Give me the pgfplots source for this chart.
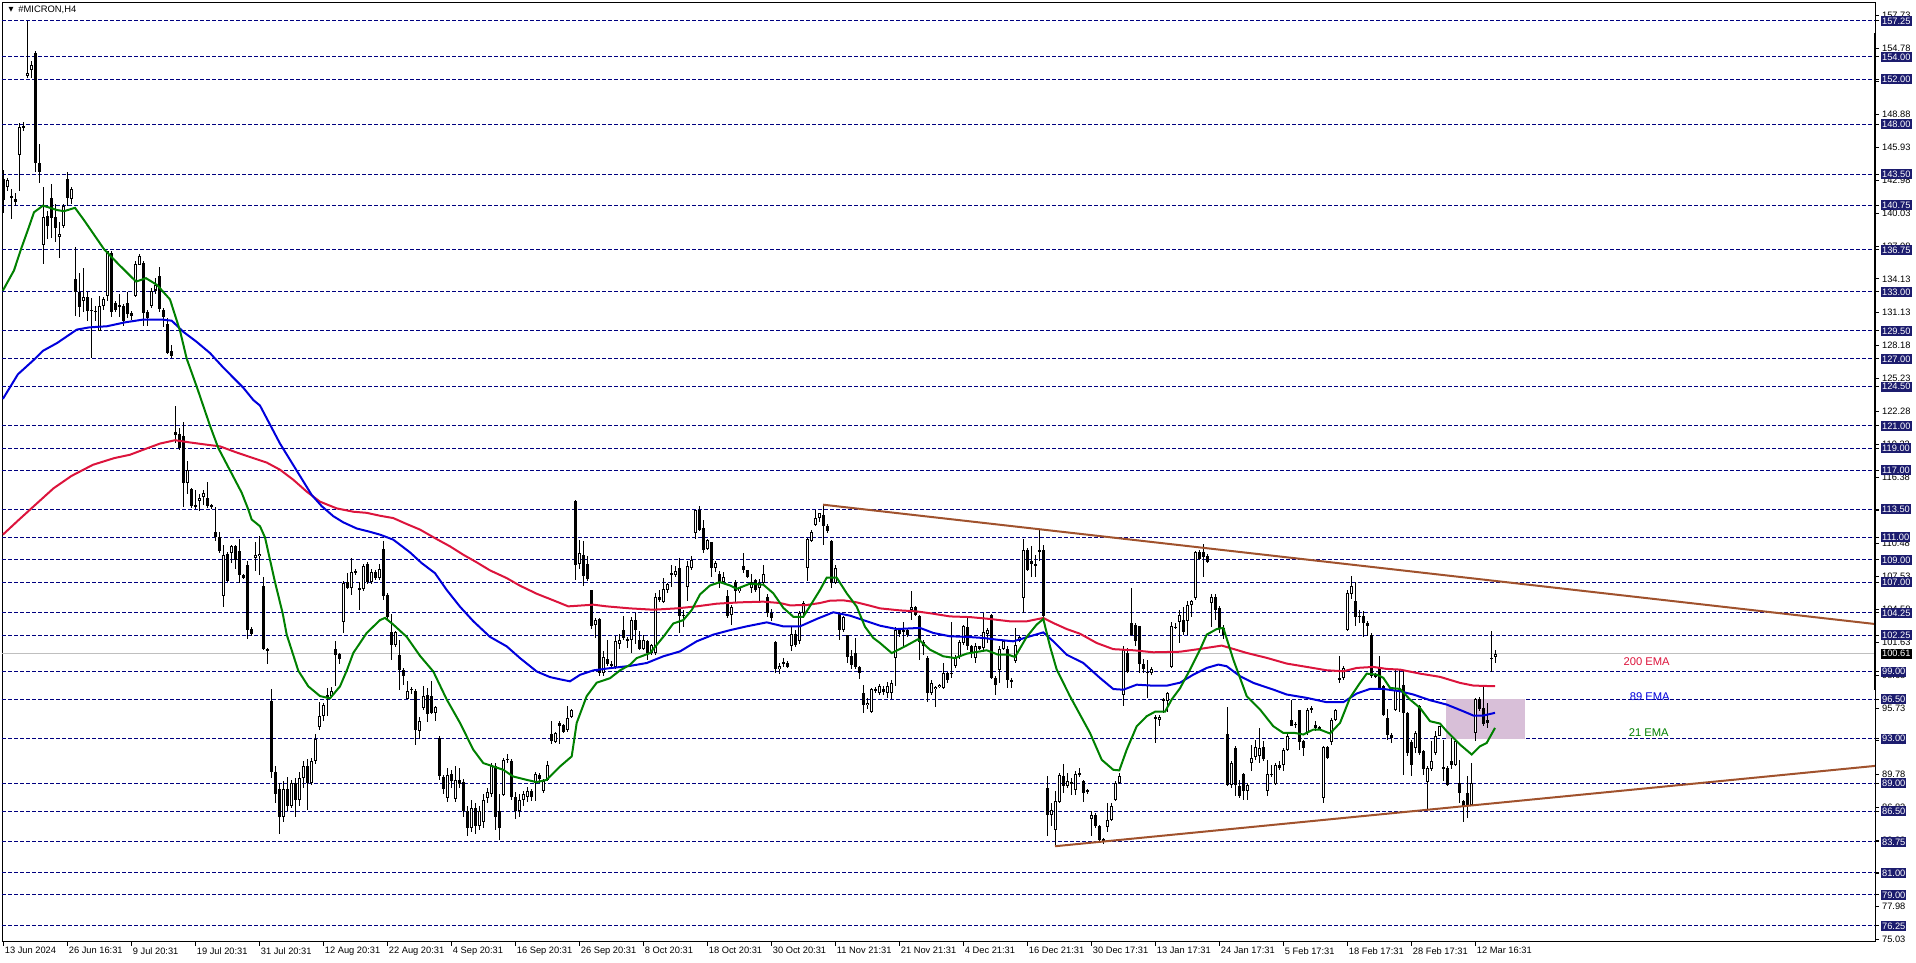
\documentclass[border=0pt]{standalone}
\usepackage{fontspec}
\setmainfont{Liberation Sans}
\newfontfamily\dejavu{DejaVu Sans}
\usepackage{pgfplots}
\usepackage{pgfplotstable}
\pgfplotsset{compat=1.18}
\definecolor{navyline}{RGB}{0,0,128}
\definecolor{navybox}{RGB}{28,28,110}
\definecolor{emared}{RGB}{220,20,60}
\definecolor{emablue}{RGB}{0,0,220}
\definecolor{emagreen}{RGB}{0,128,0}
\definecolor{trend}{RGB}{160,82,45}
\definecolor{boxpink}{RGB}{216,191,216}
\newcommand{\tf}{\fontsize{4.65pt}{5pt}\selectfont}

\pgfplotstableread{
k o h l c
0 143.1 143.9 140.05 141.2
1 142.4 143.2 142.0 143.0
2 141.6 142.2 139.5 141.4
3 141.3 141.8 140.7 141.0
4 145.2 148.1 142.0 147.7
5 147.7 148.2 147.4 147.8
6 152.3 157.25 152.1 152.6
7 152.8 153.6 152.1 153.3
8 154.4 154.5 143.7 144.5
9 144.5 146.2 142.7 143.7
10 137.2 142.4 135.5 139.7
11 139.8 140.2 137.7 138.9
12 141.4 142.6 137.8 139.6
13 139.7 140.8 137.4 138.7
14 137.9 139.2 136.0 138.2
15 138.9 140.8 138.7 140.7
16 143.1 143.7 140.7 141.4
17 141.3 142.4 140.8 142.2
18 134.1 137.0 130.8 133.0
19 133.0 134.7 130.7 131.6
20 132.2 135.1 131.2 132.5
21 132.5 133.0 130.4 131.3
22 131.4 132.4 127.1 131.3
23 131.2 131.7 130.4 131.3
24 129.5 132.6 129.5 131.7
25 131.7 132.5 131.4 132.3
26 132.6 136.6 132.2 136.6
27 136.5 136.6 130.7 131.2
28 132.0 132.2 131.2 131.4
29 131.7 132.8 130.7 131.75
30 131.7 131.9 129.9 130.4
31 132.0 133.0 130.6 131.0
32 131.1 131.3 130.5 130.8
33 132.6 135.7 132.5 135.5
34 135.4 136.4 135.4 136.2
35 135.6 135.7 129.9 131.1
36 131.2 131.4 129.9 130.6
37 131.7 133.3 131.5 133.1
38 133.1 134.2 132.8 133.6
39 134.4 135.2 131.2 131.4
40 131.4 131.5 129.8 130.7
41 130.1 130.6 127.4 127.5
42 127.7 128.2 127.1 127.2
43 120.4 122.8 119.45 120.2
44 120.25 120.8 118.85 119.0
45 120.1 121.3 113.7 115.9
46 115.9 117.8 114.9 117.0
47 115.3 115.4 113.6 113.8
48 113.9 115.2 113.5 113.7
49 114.3 114.9 113.4 114.5
50 114.6 115.2 113.9 115.0
51 114.5 116.0 113.6 113.8
52 113.9 114.0 113.5 113.7
53 111.5 113.75 110.65 111.05
54 111.0 111.5 109.6 109.75
55 105.73 110.35 104.78 109.46
56 109.55 109.7 107.0 107.07
57 109.61 110.3 108.72 110.2
58 110.2 110.3 108.18 109.0
59 109.75 110.86 106.93 107.67
60 107.6 107.7 107.3 107.4
61 108.57 108.87 101.92 102.76
62 102.8 103.0 102.2 102.4
63 109.2 110.56 107.97 109.4
64 109.3 111.1 107.67 109.5
65 106.62 107.5 100.96 100.98
66 101.0 101.1 99.7 100.8
67 96.4 97.45 89.5 90.0
68 90.0 90.5 87.2 88.0
69 88.5 89.0 84.5 86.0
70 86.0 89.2 85.5 88.5
71 88.5 89.6 86.5 87.0
72 87.0 89.3 86.8 89.0
73 89.0 89.5 86.0 87.5
74 87.5 90.0 87.0 89.5
75 89.5 91.0 88.6 90.5
76 90.5 91.2 86.6 89.0
77 89.0 91.3 88.8 91.0
78 91.0 93.4 90.7 93.0
79 94.0 96.3 93.8 95.0
80 95.0 96.2 94.6 96.0
81 96.9 97.56 95.0 96.6
82 96.8 97.6 96.6 97.3
83 101.0 101.7 97.67 100.5
84 100.6 100.7 99.7 100.1
85 103.41 107.1 102.45 106.93
86 107.0 107.8 106.4 106.5
87 106.5 109.16 105.88 107.9
88 108.0 108.2 107.6 107.8
89 106.5 107.0 104.53 106.3
90 106.4 108.6 106.2 108.42
91 108.6 108.8 106.8 107.0
92 107.0 108.2 106.8 107.9
93 107.9 108.1 107.2 107.4
94 107.4 108.6 107.2 108.2
95 109.97 110.65 105.43 105.79
96 105.88 106.0 103.64 103.89
97 102.54 104.18 100.07 101.41
98 101.4 102.6 101.2 102.5
99 100.51 101.85 97.38 99.11
100 99.1 99.3 97.83 98.6
101 96.55 98.12 96.5 97.23
102 97.4 97.6 97.0 97.45
103 97.23 97.4 92.38 93.8
104 93.7 94.94 92.97 94.55
105 95.74 97.74 95.6 96.85
106 96.9 97.5 94.5 95.2
107 96.8 98.12 95.2 95.3
108 95.3 95.9 94.6 95.8
109 93.06 93.27 89.33 89.63
110 89.6 89.7 88.0 88.44
111 87.7 90.38 87.3 89.78
112 89.8 90.2 88.6 89.2
113 87.6 90.5 87.3 89.3
114 89.3 90.4 88.6 88.9
115 89.1 89.4 86.0 86.5
116 86.5 87.0 84.3 85.0
117 85.0 87.5 84.6 86.8
118 86.8 87.2 84.5 85.2
119 85.2 87.0 84.8 86.5
120 85.5 88.0 85.0 87.5
121 87.7 88.6 87.2 88.2
122 88.0 90.8 87.8 90.5
123 90.5 90.8 84.8 86.0
124 86.5 88.0 83.9 85.0
125 87.98 91.3 87.9 91.11
126 91.2 91.6 90.8 91.1
127 91.0 91.2 87.5 87.8
128 87.8 88.2 85.8 86.5
129 86.5 88.0 86.0 87.5
130 87.5 88.3 87.0 88.0
131 87.8 88.7 87.3 88.3
132 88.3 88.5 87.4 87.8
133 89.0 90.0 87.4 89.8
134 89.7 89.9 89.0 89.4
135 88.3 89.4 88.1 89.2
136 89.33 91.0 89.2 90.67
137 93.45 94.55 92.55 92.76
138 92.7 93.6 92.6 93.5
139 94.4 94.55 92.5 94.1
140 94.2 94.3 93.5 93.6
141 93.8 95.89 93.6 94.85
142 94.9 95.6 94.8 95.53
143 114.23 114.32 107.22 108.57
144 108.6 110.8 108.2 109.61
145 109.4 110.7 106.69 107.52
146 108.6 109.3 107.1 107.3
147 106.33 106.33 102.81 103.11
148 103.2 103.8 102.0 103.6
149 103.71 103.8 98.6 98.88
150 98.9 100.81 98.6 100.31
151 100.1 101.85 99.5 99.7
152 99.5 99.9 99.2 99.65
153 99.4 102.2 99.2 101.7
154 101.5 102.4 101.0 101.8
155 102.75 104.0 101.8 102.0
156 101.85 102.1 101.1 101.8
157 101.85 103.9 100.65 103.58
158 103.6 104.2 101.5 102.7
159 101.85 102.6 100.9 101.0
160 101.0 102.3 100.95 101.8
161 101.7 101.8 100.0 100.7
162 100.7 101.5 100.5 101.4
163 100.7 106.0 100.5 105.7
164 105.7 106.3 105.2 105.4
165 105.2 107.4 105.1 106.4
166 106.3 106.9 106.0 106.8
167 107.8 108.5 106.6 107.6
168 107.6 108.4 107.5 108.0
169 108.26 109.15 102.45 103.94
170 104.0 104.5 103.0 104.1
171 106.56 108.86 105.28 108.47
172 108.26 109.36 108.1 108.95
173 111.39 113.48 110.85 113.42
174 113.42 113.84 111.54 111.69
175 111.8 112.6 109.6 109.9
176 110.0 110.9 109.9 110.8
177 110.6 110.6 107.5 108.3
178 108.3 108.9 107.9 108.7
179 107.75 107.96 106.47 106.98
180 107.0 107.87 106.9 107.45
181 105.78 106.32 103.79 103.99
182 104.1 104.95 103.2 104.8
183 106.98 107.2 105.19 106.17
184 106.17 106.6 106.0 106.47
185 108.4 109.6 107.8 108.05
186 108.05 108.1 107.4 107.5
187 106.5 107.7 106.0 107.05
188 107.2 107.3 106.1 106.3
189 106.47 107.3 105.3 106.9
190 106.9 108.5 106.8 107.7
191 105.7 105.9 103.9 104.2
192 104.2 104.6 103.5 103.8
193 101.6 101.7 98.9 99.2
194 99.2 99.8 98.8 99.5
195 99.75 100.2 99.4 99.8
196 99.8 99.9 99.3 99.4
197 101.3 103.0 100.8 102.4
198 102.4 102.7 101.2 101.4
199 101.7 104.4 101.5 104.2
200 104.2 105.3 104.1 105.1
201 108.26 110.94 107.07 110.85
202 110.7 111.7 110.6 111.5
203 112.1 113.5 112.0 112.7
204 112.7 113.2 112.4 113.2
205 113.0 113.93 110.35 112.0
206 112.0 112.2 111.4 111.6
207 110.7 110.8 106.5 106.9
208 106.9 108.5 106.8 108.3
209 104.2 104.3 101.8 102.7
210 102.7 104.0 102.5 103.9
211 102.3 102.3 99.8 100.3
212 100.4 100.9 99.2 99.6
213 100.7 102.0 99.2 99.4
214 99.4 99.5 98.3 98.9
215 97.1 97.8 95.3 96.0
216 96.0 96.6 95.6 96.2
217 95.4 97.5 95.3 97.4
218 97.35 97.6 97.1 97.4
219 97.1 97.9 96.9 97.7
220 97.4 97.7 96.9 97.2
221 97.1 98.1 96.6 97.7
222 97.1 98.27 96.54 97.97
223 100.2 103.0 97.7 102.7
224 102.7 102.9 102.1 102.4
225 102.6 103.4 101.2 102.7
226 102.7 102.8 102.1 102.3
227 104.5 106.17 103.6 104.8
228 104.8 104.9 104.0 104.1
229 104.0 104.1 100.06 101.6
230 101.6 101.8 100.5 101.3
231 100.2 100.4 96.3 97.1
232 97.1 98.2 96.9 98.0
233 97.4 97.7 95.8 97.6
234 97.6 97.9 97.5 97.8
235 97.5 99.76 97.4 98.9
236 98.9 99.0 98.0 98.2
237 98.8 103.4 98.4 98.9
238 99.5 100.5 99.3 100.3
239 100.3 101.8 100.1 101.6
240 101.55 103.19 101.4 103.04
241 103.0 103.9 100.95 101.25
242 101.25 101.4 100.2 100.7
243 100.2 101.55 99.76 101.25
244 101.25 101.3 100.9 101.0
245 101.1 104.2 100.95 102.5
246 102.4 102.9 101.55 102.75
247 104.08 104.17 98.33 98.42
248 98.42 98.57 96.93 97.82
249 99.17 101.25 97.97 101.0
250 101.0 101.85 100.9 101.7
251 101.0 101.25 97.5 98.27
252 98.2 98.4 97.5 98.1
253 99.9 102.9 99.76 101.4
254 101.7 102.2 101.6 102.1
255 105.6 110.85 104.2 109.9
256 109.9 110.05 107.96 108.1
257 108.9 110.2 107.5 108.6
258 108.6 109.45 107.5 108.4
259 109.8 111.7 108.9 109.85
260 109.84 110.35 103.8 103.93
261 88.57 89.62 84.25 86.19
262 86.2 87.2 85.15 86.6
263 84.85 88.28 83.36 87.38
264 87.3 89.9 87.2 89.77
265 89.62 90.75 88.13 88.79
266 88.79 89.92 88.6 89.17
267 89.0 89.47 87.98 89.05
268 88.43 90.07 87.98 89.86
269 89.9 90.37 89.6 89.7
270 89.17 89.32 87.3 88.13
271 88.4 88.5 88.0 88.2
272 85.8 86.5 84.25 86.2
273 86.2 86.34 85.0 85.15
274 85.15 85.3 83.8 83.95
275 84.0 84.1 83.6 83.8
276 85.1 87.24 84.6 85.7
277 85.7 87.24 85.6 87.0
278 87.53 89.17 87.38 89.0
279 89.0 89.92 88.97 89.68
280 96.93 101.25 95.88 100.95
281 100.7 101.1 98.9 99.0
282 103.3 106.47 102.15 102.3
283 103.2 103.3 101.25 101.7
284 103.04 103.1 98.9 99.7
285 99.7 100.1 98.9 99.2
286 98.9 100.06 96.63 98.95
287 98.9 99.4 98.7 99.2
288 94.9 95.1 92.6 94.75
289 94.7 95.1 94.1 94.9
290 96.35 96.6 95.3 96.5
291 96.4 97.2 95.4 97.07
292 99.4 103.4 99.3 103.04
293 103.0 103.3 102.8 102.9
294 103.4 104.5 101.55 104.08
295 103.6 104.8 102.3 102.5
296 103.5 105.3 102.3 104.99
297 104.99 105.4 103.9 105.3
298 105.6 109.76 105.37 109.67
299 109.67 109.9 109.0 109.07
300 109.67 110.45 107.47 109.25
301 109.3 109.5 108.7 108.8
302 105.14 105.9 103.0 105.7
303 105.7 105.9 103.65 104.48
304 104.7 104.9 102.45 102.9
305 102.9 103.2 101.9 102.3
306 93.45 95.83 88.73 88.88
307 88.88 90.97 88.59 90.82
308 92.16 92.31 87.84 88.88
309 88.73 89.33 87.69 87.84
310 89.8 89.9 87.5 88.3
311 88.3 89.0 87.5 88.8
312 90.82 92.46 90.08 91.27
313 91.36 92.91 91.12 92.25
314 91.42 93.95 90.82 92.16
315 92.25 92.76 90.97 91.18
316 88.28 91.12 87.84 89.87
317 89.87 90.67 89.6 89.7
318 88.97 90.82 88.8 90.67
319 90.67 90.97 90.22 90.37
320 90.6 92.16 90.08 91.96
321 92.01 93.5 91.87 93.27
322 94.7 96.49 94.1 94.16
323 94.25 94.5 93.95 94.3
324 95.53 95.59 92.01 92.67
325 92.76 92.91 91.42 92.16
326 93.5 95.74 93.36 95.59
327 95.6 95.9 95.3 95.74
328 94.25 94.55 93.65 93.95
329 94.0 94.1 93.8 93.9
330 87.7 92.31 87.24 92.25
331 92.25 92.31 91.18 91.27
332 92.67 94.85 92.46 94.7
333 94.7 95.65 94.55 95.53
334 98.43 100.4 97.98 98.28
335 98.43 99.47 98.28 99.32
336 102.69 106.33 102.6 106.03
337 105.97 107.58 105.5 106.69
338 105.29 106.99 103.05 103.88
339 103.95 104.5 103.35 103.97
340 103.95 104.39 102.09 103.35
341 103.35 103.5 102.15 103.05
342 102.3 102.45 98.43 98.58
343 98.6 98.9 98.4 98.62
344 99.32 100.36 97.38 97.53
345 97.68 97.83 95.0 95.15
346 94.85 95.65 92.91 93.36
347 93.36 93.5 92.6 93.06
348 95.59 99.17 95.44 97.38
349 97.3 99.1 95.4 97.35
350 97.83 99.17 89.78 95.29
351 95.29 95.35 91.42 91.72
352 92.67 92.91 89.69 90.67
353 92.16 93.65 91.72 93.5
354 95.89 96.04 91.57 91.72
355 91.87 92.01 89.78 90.23
356 89.09 90.52 86.65 90.37
357 90.23 92.76 90.08 90.97
358 91.72 93.65 91.57 93.27
359 93.27 94.16 93.2 94.1
360 90.46 92.91 89.2 90.23
361 90.37 90.52 88.73 88.88
362 90.97 93.06 90.23 90.67
363 90.67 92.97 90.52 92.76
364 89.03 91.12 87.24 88.14
365 87.39 87.54 85.5 86.94
366 88.14 89.69 85.9 87.0
367 87.09 90.82 86.94 89.03
368 93.5 96.64 92.76 96.55
369 96.55 96.73 95.44 95.65
370 95.74 97.83 94.16 94.34
371 94.7 96.19 93.95 94.4
372 100.2 102.6 99.0 100.15
373 100.3 100.96 99.77 100.61
}\candles

\pgfplotsset{
  candlepart/.style={draw=none, mark=none, forget plot, error bars/.cd, y dir=both, y explicit, error mark=none},
}

\begin{document}
\begin{tikzpicture}
\begin{axis}[
  at={(0,0)}, anchor=south west,
  scale only axis, width=936.5pt, height=469.65pt,
  xmin=2, xmax=1875, ymin=74.79, ymax=158.86,
  clip=false,
  axis line style={black, line width=0.5pt},
  tick style={black, line width=0.5pt},
  tick align=outside, major tick length=2pt,
  xtick pos=bottom, ytick pos=right,
  xtick={3.7,67.7,131.7,195.7,259.7,323.7,387.7,451.7,515.7,579.7,643.7,707.7,771.7,835.7,899.7,963.7,1027.7,1091.7,1155.7,1219.7,1283.7,1347.7,1411.7,1475.7},
  xticklabels={13 Jun 2024,26 Jun 16:31,9 Jul 20:31,19 Jul 20:31,31 Jul 20:31,12 Aug 20:31,22 Aug 20:31,4 Sep 20:31,16 Sep 20:31,26 Sep 20:31,8 Oct 20:31,18 Oct 20:31,30 Oct 20:31,11 Nov 21:31,21 Nov 21:31,4 Dec 21:31,16 Dec 21:31,30 Dec 17:31,13 Jan 17:31,24 Jan 17:31,5 Feb 17:31,18 Feb 17:31,28 Feb 17:31,12 Mar 16:31},
  xticklabel style={font=\tf, anchor=north west, inner sep=0pt, xshift=0.4pt, yshift=-0.5pt},
  yticklabel pos=right,
  ytick={157.73,154.78,151.83,148.88,145.93,142.98,140.03,137.08,134.13,131.13,128.18,125.23,122.28,119.33,116.38,113.43,110.48,107.53,104.58,101.63,98.68,95.73,92.78,89.78,86.83,83.88,80.93,77.98,75.03},
  yticklabel style={font=\tf, anchor=west, inner xsep=0pt, inner ysep=0.8pt, text height=3.4pt, text depth=0pt, xshift=1.35pt, /pgf/number format/fixed, /pgf/number format/fixed zerofill, /pgf/number format/precision=2, /pgf/number format/assume math mode=true},
  extra y ticks={157.25,154,152,148,143.5,140.75,136.75,133,129.5,127,124.5,121,119,117,113.5,111,109,107,104.25,102.25,99,96.5,93,89,86.5,83.75,81,79,76.25},
  extra y tick style={grid=major, major grid style={navyline, line width=0.5pt, dash pattern=on 2pt off 1pt}, yticklabel style={fill=navybox, text=white, inner xsep=0.5pt, xshift=-0.5pt}},
]
% pink zone
\addplot[fill=boxpink, draw=none, forget plot] coordinates {(1446,92.97) (1525,92.97) (1525,96.55) (1446,96.55)} -- cycle;
% current price line
\addplot[color=black!25, line width=0.5pt, forget plot] coordinates {(2,100.61) (1875,100.61)};
% wicks
\addplot[candlepart, error bar style={draw=black, line width=0.5pt, line cap=butt}]
  table[x expr=3+4*\thisrow{k}, y expr=(\thisrow{h}+\thisrow{l})/2, y error expr=(\thisrow{h}-\thisrow{l})/2] {\candles};
% bodies (black)
\addplot[candlepart, error bar style={draw=black, line width=1.5pt, line cap=butt}]
  table[x expr=3+4*\thisrow{k}, y expr=(\thisrow{o}+\thisrow{c})/2, y error expr={max(abs(\thisrow{c}-\thisrow{o})/2,0.05)}] {\candles};
% bodies (white interior for rising candles)
\addplot[candlepart, error bar style={draw=white, line width=0.5pt, line cap=butt}]
  table[x expr=3+4*\thisrow{k}, y expr=(\thisrow{o}+\thisrow{c})/2, y error expr={ifthenelse(\thisrow{c}>\thisrow{o},max((\thisrow{c}-\thisrow{o})/2-0.09,0),0)}] {\candles};
% 200 EMA
\addplot[emared, line width=1pt, forget plot] coordinates {
(2.9,111.25) (17.9,112.5) (35.7,113.95) (53.6,115.4) (71.4,116.5) (92.9,117.5) (114.3,118.1) (130,118.4) (143.3,118.85) (160,119.4) (175,119.7) (190,119.5) (206.7,119.3) (220,119.15) (236.7,118.6) (253.3,118.1) (266.7,117.7) (280,117.06) (293.3,116.16) (306.7,115.1) (320,114.2) (336.7,113.6) (353.3,113.3) (366.7,113.2) (380,112.94) (393.3,112.73) (406.7,112.2) (420,111.7) (436.7,110.85) (450,110.2) (463.3,109.45) (476.7,108.77) (490,108.05) (506.7,107.36) (520,106.68) (536.7,105.96) (553.3,105.37) (568.3,104.83) (580,104.9) (593.3,104.98) (606.7,104.83) (630,104.65) (653.3,104.53) (676.7,104.65) (696.7,104.83) (716.7,105.07) (740,105.19) (763.3,105.25) (780,105.13) (790,104.92) (806.7,104.95) (820,105.13) (830,105.34) (843.3,105.37) (856.7,105.19) (870,104.89) (880,104.65) (900,104.47) (916.7,104.38) (933.3,104.17) (950,103.93) (970,103.87) (990,103.7) (1010,103.49) (1026.7,103.49) (1043.3,103.79) (1053.3,103.34) (1066.7,102.8) (1080,102.38) (1096.7,101.55) (1113.3,101.0) (1133.3,100.9) (1153.3,100.72) (1180,100.77) (1200,101.02) (1221.7,101.32) (1233.3,101.02) (1246.7,100.66) (1266.7,100.22) (1286.7,99.71) (1306.7,99.41) (1326.7,99.11) (1343.3,99.02) (1356.7,99.32) (1373.3,99.41) (1386.7,99.23) (1400,99.17) (1420,98.81) (1440,98.52) (1460,97.98) (1473.3,97.74) (1495,97.68)};
% 89 EMA
\addplot[emablue, line width=1pt, forget plot] coordinates {
(2.9,123.4) (17.9,125.6) (33.9,126.9) (42.9,127.7) (57.1,128.4) (76.8,129.6) (89.3,129.8) (107,129.9) (125,130.25) (143.3,130.5) (161.7,130.5) (171.7,130.4) (183.3,129.4) (196.7,128.5) (210,127.5) (223.3,126.2) (243.3,124.4) (253.3,123.3) (260,122.8) (270,121.1) (280,119.4) (290,117.95) (300,116.5) (311.7,114.8) (321.7,113.8) (333.3,112.9) (343.3,112.35) (356.7,111.8) (370,111.5) (380,111.25) (393.3,110.8) (410,109.66) (421.7,108.7) (435,107.8) (446.7,106.3) (460,104.8) (473.3,103.5) (490,102.1) (506.7,101.25) (520,100.2) (536.7,99.0) (550,98.5) (561.7,98.27) (570,98.12) (580,98.7) (593.3,99.1) (610,99.3) (630,99.5) (646.7,99.76) (663.3,100.36) (680,100.8) (696.7,101.7) (713.3,102.3) (730,102.7) (746.7,103.04) (766.7,103.4) (783.3,103.04) (800,103.04) (816.7,103.7) (833.3,104.3) (850,104.0) (863.3,103.6) (880,103.1) (896.7,102.8) (920,102.9) (933.3,102.45) (950,102.15) (966.7,102.1) (983.3,102.0) (996.7,101.85) (1013.3,101.7) (1030,102.15) (1043.3,102.5) (1053.3,101.7) (1066.7,100.5) (1083.3,99.76) (1100,98.42) (1113.3,97.43) (1123.3,97.37) (1136.7,97.82) (1153.3,97.73) (1166.7,97.73) (1180,98.0) (1193.3,98.72) (1206.7,99.32) (1218.3,99.62) (1226.7,99.47) (1240,98.58) (1253.3,97.98) (1273.3,97.38) (1286.7,96.94) (1306.7,96.64) (1326.7,96.25) (1343.3,96.25) (1356.7,97.03) (1370,97.44) (1383.3,97.44) (1400,97.23) (1413.3,96.94) (1430,96.43) (1446.7,96.04) (1463.3,95.44) (1473.3,95.06) (1483.3,95.06) (1495,95.3)};
% 21 EMA
\addplot[emagreen, line width=1pt, forget plot] coordinates {
(2.9,133.1) (14,134.9) (21,136.8) (28.6,138.7) (34,140.1) (43,140.7) (57,140.3) (64,140.2) (75,140.5) (84,139.4) (104,136.8) (118,135.5) (136,133.9) (146,134.2) (157,133.6) (170,132.3) (180,129.5) (186.7,127.0) (196.7,124.5) (210,121.0) (218.3,119.0) (230,117.0) (241.7,115.0) (248.3,113.5) (251.7,112.6) (260,112.0) (265,111.0) (270,109.0) (275,107.0) (282.7,104.2) (286.7,102.3) (298.3,99.07) (308.3,97.67) (320,96.8) (330,96.6) (340,97.67) (346.7,99.07) (353.3,100.66) (366.7,102.45) (380,103.6) (385,103.8) (393.3,103.2) (406.7,102.1) (420,100.4) (433.3,99.0) (446.7,96.5) (460,94.4) (473.3,92.0) (483.3,90.8) (493.3,90.5) (503.3,90.2) (513.3,89.6) (526.7,89.3) (536.7,89.1) (546.7,89.3) (560,90.5) (571.7,91.4) (576.7,94.4) (586.7,96.8) (596.7,98.0) (610,98.4) (620,99.1) (630,99.6) (636.7,100.2) (650,100.65) (663.3,102.1) (673.3,103.3) (683.3,103.6) (691.7,104.5) (700,105.9) (710,106.7) (720,107.0) (730,106.7) (736.7,106.4) (750,106.86) (763.3,106.77) (773.3,106.0) (783.3,104.7) (793.3,103.9) (803.3,103.9) (811.7,105.1) (820,106.3) (826.7,107.4) (836.7,107.4) (846.7,106.0) (856.7,104.8) (865,103.0) (873.3,102.0) (880,101.55) (891.7,100.65) (905,101.25) (918.3,101.9) (930,100.95) (943.3,100.36) (955,100.2) (966.7,100.6) (986.7,100.9) (998.3,100.5) (1008.3,100.5) (1015,100.3) (1026.7,102.1) (1036.7,103.2) (1043.3,103.7) (1050,101.25) (1056.7,99.17) (1070,96.78) (1080,95.14) (1090,93.5) (1101.7,91.1) (1113.3,90.2) (1119.3,90.15) (1126.7,92.0) (1136.7,94.1) (1146.7,95.0) (1155,95.4) (1165,95.4) (1171.7,96.5) (1180,97.5) (1190,99.17) (1200,100.96) (1206.7,102.3) (1216.7,102.8) (1223.3,102.9) (1233.3,100.07) (1246.7,96.79) (1260,95.6) (1273.3,94.1) (1283.3,93.5) (1295,93.5) (1303.3,93.36) (1313.3,93.8) (1320,93.8) (1330,93.45) (1340,94.4) (1350,96.64) (1360,97.98) (1366.7,98.81) (1376.7,98.72) (1383.3,98.43) (1390,97.53) (1400,97.44) (1410,96.49) (1420,95.74) (1430,94.55) (1440,94.34) (1446.7,93.65) (1460,92.46) (1471.7,91.57) (1480,92.31) (1486.7,92.61) (1495,93.95)};
% trend lines
\addplot[trend, line width=1pt, forget plot] coordinates {(823,113.93) (1875,103.25)};
\addplot[trend, line width=1pt, forget plot] coordinates {(1055,83.36) (1875,90.55)};
% price scale bar
\addplot[black, line width=1.35pt, forget plot] coordinates {(1875,156.15) (1875,97.35)};
% labels
\node[anchor=east, text=emared, font=\fontsize{5.6pt}{6pt}\selectfont, inner sep=0pt] at (axis cs:1670,99.9) {200 EMA};
\node[anchor=east, text=emablue, font=\fontsize{5.6pt}{6pt}\selectfont, inner sep=0pt] at (axis cs:1670,96.75) {89 EMA};
\node[anchor=east, text=emagreen, font=\fontsize{5.6pt}{6pt}\selectfont, inner sep=0pt] at (axis cs:1669,93.56) {21 EMA};
\node[anchor=west, fill=black, text=white, font=\tf, inner xsep=0.5pt, inner ysep=0.8pt, text height=3.4pt, text depth=0pt, xshift=2.85pt] at (axis cs:1875,100.61) {100.61};
\node[anchor=west, font=\fontsize{4.7pt}{5pt}\selectfont, inner sep=0pt, xshift=8pt, yshift=-3.65pt] at (rel axis cs:0,1) {\#MICRON,H4};
\node[font=\dejavu\fontsize{3.2pt}{4pt}\selectfont, inner sep=0pt, xshift=4.5pt, yshift=-3.65pt] at (rel axis cs:0,1) {▼};
\end{axis}
\pgfresetboundingbox
\path[use as bounding box] (-1pt,-10.5pt) rectangle (957pt,471pt);
\end{tikzpicture}
\end{document}
